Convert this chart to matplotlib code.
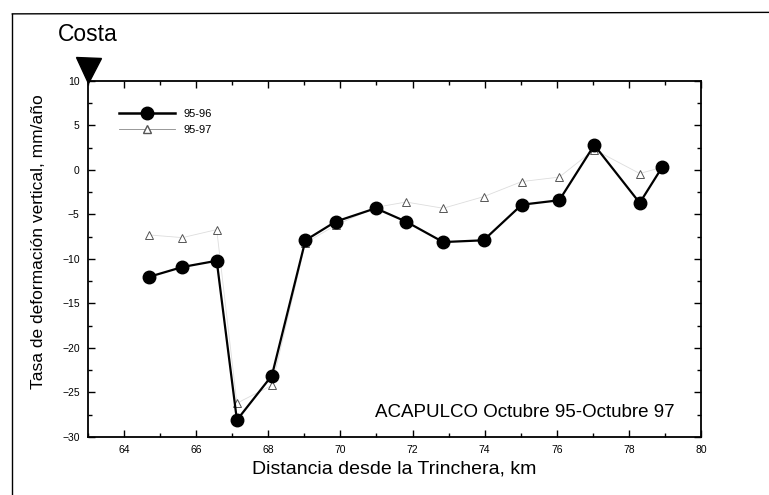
import matplotlib.pyplot as plt
from matplotlib.lines import Line2D
from matplotlib.ticker import MultipleLocator

plt.rcParams['font.family'] = ['Liberation Sans', 'DejaVu Sans']

# Distance from the trench (km) for each benchmark
dist = [64.7, 65.62, 66.57, 67.13, 68.1, 69.03, 69.87, 70.98,
        71.82, 72.85, 73.97, 75.03, 76.07, 77.04, 78.3, 78.92]
# vertical deformation rate, mm/yr
rate_95_96 = [-12.0, -10.9, -10.2, -28.1, -23.1, -7.9, -5.8, -4.3,
              -5.8, -8.1, -7.9, -3.9, -3.4, 2.8, -3.7, 0.3]
rate_95_97 = [-7.3, -7.6, -6.7, -26.2, -24.2, -8.2, -6.2, -4.2,
              -3.6, -4.3, -3.0, -1.3, -0.8, 2.3, -0.4, 0.3]

fig = plt.figure(figsize=(7.69, 4.95), dpi=100)
ax = fig.add_axes([0.1144, 0.1172, 0.7972, 0.7192])

ax.plot(dist, rate_95_97, color='#dddddd', lw=0.6, marker='^', ms=6,
        mfc='white', mec='#555555', mew=0.7, zorder=2)
ax.plot(dist, rate_95_96, color='black', lw=1.6, marker='o', ms=9,
        mfc='black', mec='black', zorder=3)

ax.set_xlim(63, 80)
ax.set_ylim(-30, 10)
ax.xaxis.set_major_locator(MultipleLocator(2))
ax.xaxis.set_minor_locator(MultipleLocator(1))
ax.yaxis.set_major_locator(MultipleLocator(5))
ax.yaxis.set_minor_locator(MultipleLocator(2.5))
ax.tick_params(which='both', direction='in', top=True, right=True,
               labelsize=7.5, width=1)
ax.tick_params(which='major', length=5, pad=6)
ax.tick_params(which='minor', length=3)
for s in ax.spines.values():
    s.set_linewidth(1.3)

ax.set_xlabel('Distancia desde la Trinchera, km', fontsize=14, labelpad=4)
ax.set_ylabel('Tasa de deformación vertical, mm/año', fontsize=12.5)
ax.yaxis.set_label_coords(-0.068, 0.55)

ax.text(0.957, 0.07, 'ACAPULCO Octubre 95-Octubre 97', transform=ax.transAxes,
        ha='right', va='center', fontsize=13.5)

# trench marker
ax.plot([0], [1.03], marker='v', ms=18, color='black', transform=ax.transAxes,
        clip_on=False)

handles = [
    Line2D([], [], color='black', lw=1.8, marker='o', ms=9),
    Line2D([], [], color='#888888', lw=0.6, marker='^', ms=6, mfc='white',
           mec='#555555'),
]
ax.legend(handles, ['95-96', '95-97'], loc='upper left',
          bbox_to_anchor=(0.035, 0.95), frameon=False, fontsize=8,
          handlelength=5.0, labelspacing=0.55, handletextpad=0.8)

fig.text(0.075, 0.93, 'Costa', fontsize=16.5, ha='left', va='center')

# outer frame of the original figure
fig.add_artist(Line2D([0.016, 0.016], [0.0, 0.972], color='black', lw=1))
fig.add_artist(Line2D([0.016, 1.0], [0.972, 0.975], color='black', lw=1))

fig.savefig('out.png', dpi=100)
